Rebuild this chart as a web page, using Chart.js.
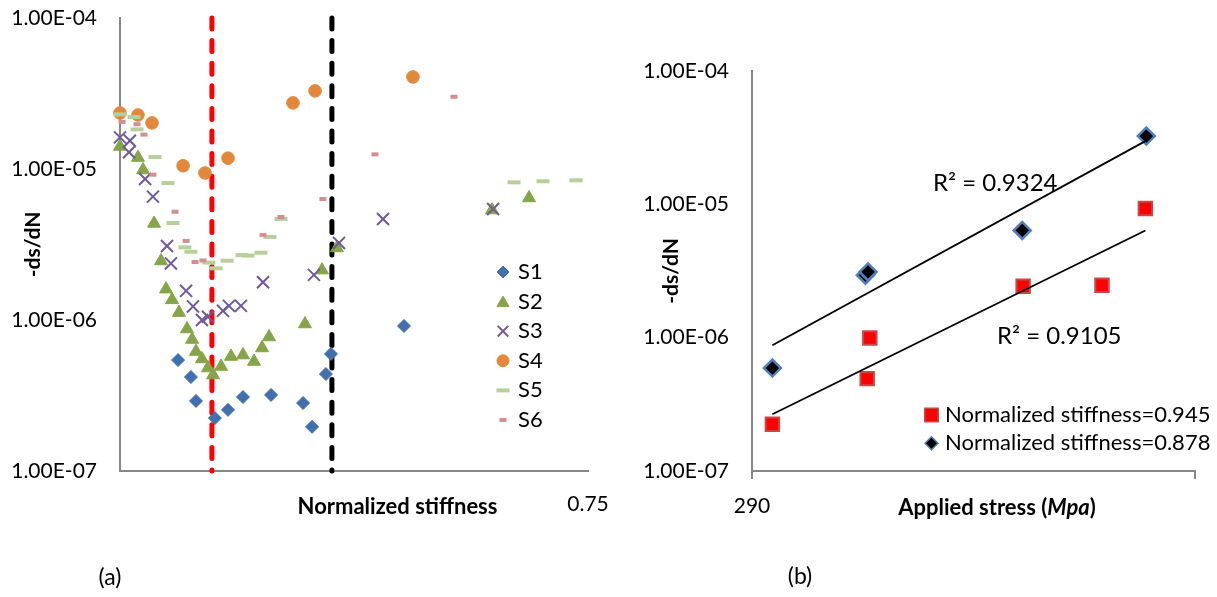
<!DOCTYPE html>
<html>
<head>
<meta charset="utf-8">
<title>Crack growth rate</title>
<script src="https://cdn.jsdelivr.net/npm/chart.js@4.4.1/dist/chart.umd.min.js"></script>
<style>
  html, body { margin: 0; padding: 0; background: #fff; overflow: hidden; }
  #wrap { position: relative; width: 1217px; height: 597px; }
  .panel { position: absolute; top: 0; }
  #panelA { left: 0; }
  #panelB { left: 620px; }
</style>
</head>
<body>
<div id="wrap">
  <div class="panel" id="panelA"><canvas id="chartA" width="620" height="597"></canvas></div>
  <div class="panel" id="panelB"><canvas id="chartB" width="597" height="597"></canvas></div>
</div>
<script>
// (a) -ds/dN against normalized stiffness, one pair of arrays per specimen
const s1Stiffness = [0.9690, 0.9621, 0.9594, 0.9493, 0.9423, 0.9343, 0.9193, 0.9022, 0.8974, 0.8900, 0.8873, 0.8483];
const s1Rate = [5.43e-7, 4.19e-7, 2.91e-7, 2.24e-7, 2.54e-7, 3.09e-7, 3.19e-7, 2.82e-7, 1.96e-7, 4.39e-7, 5.96e-7, 9.13e-7];

const s2Stiffness = [1.0, 0.9904, 0.9877, 0.9818, 0.9781, 0.9754, 0.9722, 0.9685, 0.9642, 0.9615, 0.9594, 0.9562, 0.9530,
  0.9503, 0.9460, 0.9407, 0.9343, 0.9284, 0.9241, 0.9204, 0.9012, 0.8921, 0.8841, 0.8013, 0.7815];
const s2Rate = [1.41e-5, 1.19e-5, 9.85e-6, 4.36e-6, 2.46e-6, 1.60e-6, 1.36e-6, 1.12e-6, 8.72e-7, 7.43e-7, 6.18e-7, 5.52e-7, 4.81e-7,
  4.32e-7, 4.92e-7, 5.73e-7, 5.86e-7, 5.31e-7, 6.53e-7, 7.72e-7, 9.41e-7, 2.14e-6, 3.00e-6, 5.35e-6, 6.43e-6];

const s3Stiffness = [1.0, 0.9947, 0.9952, 0.9866, 0.9824, 0.9749, 0.9728, 0.9647, 0.9610, 0.9562, 0.9530, 0.9450, 0.9418,
  0.9354, 0.9236, 0.8964, 0.8830, 0.8595, 0.8007];
const s3Rate = [1.62e-5, 1.54e-5, 1.29e-5, 8.59e-6, 6.56e-6, 3.09e-6, 2.37e-6, 1.56e-6, 1.23e-6, 1.00e-6, 1.05e-6, 1.15e-6, 1.24e-6,
  1.24e-6, 1.78e-6, 1.99e-6, 3.24e-6, 4.67e-6, 5.43e-6];

const s4Stiffness = [1.0, 0.9904, 0.9829, 0.9663, 0.9546, 0.9423, 0.9076, 0.8958, 0.8435];
const s4Rate = [2.35e-5, 2.28e-5, 2.02e-5, 1.05e-5, 9.41e-6, 1.18e-5, 2.74e-5, 3.29e-5, 4.07e-5];

const s5Stiffness = [1.0, 0.9925, 0.9909, 0.9813, 0.9744, 0.9717, 0.9653, 0.9621, 0.9525, 0.9487, 0.9428, 0.9348, 0.9316,
  0.9247, 0.9199, 0.9140, 0.7895, 0.7740, 0.7564];
const s5Rate = [2.30e-5, 2.21e-5, 1.83e-5, 1.20e-5, 8.08e-6, 4.39e-6, 3.03e-6, 2.83e-6, 2.40e-6, 2.20e-6, 2.47e-6, 2.69e-6, 2.67e-6,
  2.79e-6, 3.55e-6, 4.67e-6, 8.16e-6, 8.29e-6, 8.42e-6];

const s6Stiffness = [0.9989, 0.9909, 0.9872, 0.9824, 0.9706, 0.9647, 0.9599, 0.9557, 0.9236, 0.9140, 0.8916, 0.8638, 0.8216];
const s6Rate = [2.05e-5, 1.98e-5, 1.69e-5, 9.17e-6, 5.21e-6, 3.34e-6, 2.42e-6, 2.48e-6, 3.66e-6, 4.81e-6, 6.33e-6, 1.25e-5, 3.01e-5];

// stiffness levels marked by the dashed verticals
const guideStiffness = [0.9509, 0.8868];

// (b) -ds/dN against applied stress at two stiffness levels
const stress945 = [292.3, 303.0, 303.3, 320.6, 329.5, 334.4];
const rate945 = [2.24e-7, 4.93e-7, 9.95e-7, 2.43e-6, 2.47e-6, 9.32e-6];
const stress878 = [292.3, 302.8, 303.1, 320.5, 334.5];
const rate878 = [5.92e-7, 2.94e-6, 3.11e-6, 6.37e-6, 3.25e-5];

// axes
const rateTicks = [1e-7, 1e-6, 1e-5, 1e-4];
const stiffnessRange = [0.75, 1];
const stiffnessTicks = [0.75];
const stressRange = [290, 340];
const stressTicks = [290, 340];
const stressTickLabels = ['290', ''];

const family = 'Lato, "Open Sans", sans-serif';
const axisGray = '#878787';
const clear = 'rgba(0,0,0,0)';

function sciLabel(v) {
  const e = Math.round(Math.log10(v));
  const m = v / Math.pow(10, e);
  return m.toFixed(2) + 'E' + (e < 0 ? '-' : '+') + String(Math.abs(e)).padStart(2, '0');
}

function pairs(xs, ys) {
  return xs.map((x, i) => ({ x: x, y: ys[i] }));
}

// exponential trendline: least squares on log10(y), drawn between the outer x values
function expTrend(xs, ys) {
  const n = xs.length;
  const ly = ys.map(v => Math.log10(v));
  const mx = xs.reduce((a, b) => a + b, 0) / n;
  const my = ly.reduce((a, b) => a + b, 0) / n;
  let sxy = 0, sxx = 0;
  xs.forEach((x, i) => { sxy += (x - mx) * (ly[i] - my); sxx += (x - mx) * (x - mx); });
  const slope = sxy / sxx;
  return [Math.min(...xs), Math.max(...xs)].map(x => ({ x: x, y: Math.pow(10, my + slope * (x - mx)) }));
}

// free text (axis titles, panel letters, R² notes), each item made of styled runs
function notesPlugin(id, items) {
  return {
    id: id,
    afterDraw(chart) {
      const ctx = chart.ctx;
      ctx.save();
      ctx.fillStyle = '#000';
      ctx.textBaseline = 'middle';
      ctx.textAlign = 'left';
      items.forEach(item => {
        let total = 0;
        item.runs.forEach(r => { ctx.font = r.font; total += ctx.measureText(r.text).width; });
        let x = item.align === 'center' ? item.x - total / 2 : item.x;
        item.runs.forEach(r => {
          ctx.font = r.font;
          ctx.fillText(r.text, x, item.y);
          x += ctx.measureText(r.text).width;
        });
      });
      ctx.restore();
    }
  };
}

// legend drawn from the datasets' own marker settings
function legendPlugin(id, opts) {
  return {
    id: id,
    afterDraw(chart) {
      const ctx = chart.ctx;
      ctx.save();
      opts.entries.forEach((e, i) => {
        const ds = chart.data.datasets[e.index];
        const y = opts.y + i * opts.step;
        const bw = e.borderWidth !== undefined ? e.borderWidth : ds.pointBorderWidth;
        ctx.fillStyle = ds.pointBackgroundColor;
        ctx.strokeStyle = ds.pointBorderColor;
        ctx.lineWidth = bw;
        Chart.helpers.drawPoint(ctx, {
          pointStyle: ds.pointStyle,
          radius: e.radius !== undefined ? e.radius : ds.pointRadius,
          rotation: 0,
          borderWidth: bw
        }, opts.markerX, y + (e.dy || 0));
        ctx.fillStyle = '#000';
        ctx.font = opts.font;
        ctx.textAlign = 'left';
        ctx.textBaseline = 'middle';
        ctx.fillText(ds.label, opts.textX, y);
      });
      ctx.restore();
    }
  };
}

function guideLine(x, color) {
  return {
    type: 'line',
    label: '',
    data: [{ x: x, y: rateTicks[rateTicks.length - 1] }, { x: x, y: rateTicks[0] }],
    borderColor: color,
    borderWidth: 5,
    borderDash: [11, 11.6],
    borderCapStyle: 'round',
    pointRadius: 0,
    showLine: true,
    clip: false,
    order: 10
  };
}

function markers(label, xs, ys, style) {
  return Object.assign({ label: label, data: pairs(xs, ys), showLine: false, clip: false }, style);
}

// invisible tick marks keep the label gap out of the scale's edge padding
function spacer(len) {
  return { display: true, drawOnChartArea: false, drawTicks: true, tickLength: len, color: clear };
}

const datasetsA = [
  guideLine(guideStiffness[0], '#FF0000'),
  guideLine(guideStiffness[1], '#000000'),
  markers('S1', s1Stiffness, s1Rate, { pointStyle: 'rectRot', pointRadius: 6.5, pointBackgroundColor: '#4270AE', pointBorderColor: '#4270AE', pointBorderWidth: 1, order: 6 }),
  markers('S2', s2Stiffness, s2Rate, { pointStyle: 'triangle', pointRadius: 7.5, pointBackgroundColor: '#86A548', pointBorderColor: '#86A548', pointBorderWidth: 1, order: 5 }),
  markers('S3', s3Stiffness, s3Rate, { pointStyle: 'crossRot', pointRadius: 8.5, pointBackgroundColor: '#70589A', pointBorderColor: '#70589A', pointBorderWidth: 2, order: 4 }),
  markers('S4', s4Stiffness, s4Rate, { pointStyle: 'circle', pointRadius: 6.3, pointBackgroundColor: '#E3883B', pointBorderColor: '#E3883B', pointBorderWidth: 1, order: 3 }),
  markers('S5', s5Stiffness, s5Rate, { pointStyle: 'line', pointRadius: 6.5, pointBackgroundColor: '#B7D09A', pointBorderColor: '#B7D09A', pointBorderWidth: 4, order: 2 }),
  markers('S6', s6Stiffness, s6Rate, { pointStyle: 'line', pointRadius: 3.5, pointBackgroundColor: '#D58E90', pointBorderColor: '#D58E90', pointBorderWidth: 4, order: 1 })
];

const tickFont = { family: family, size: 21 };

new Chart(document.getElementById('chartA'), {
  type: 'scatter',
  data: { datasets: datasetsA },
  options: {
    responsive: false,
    animation: false,
    events: [],
    layout: { padding: { left: 0, top: 18, right: 32, bottom: 46 } },
    plugins: { legend: { display: false }, tooltip: { enabled: false } },
    scales: {
      x: {
        type: 'linear',
        min: stiffnessRange[0],
        max: stiffnessRange[1],
        reverse: true,
        afterBuildTicks: s => { s.ticks = stiffnessTicks.map(v => ({ value: v })); },
        afterFit: s => { s.height = 80; },
        grid: spacer(21),
        border: { color: axisGray, width: 2 },
        ticks: { font: tickFont, color: '#000', padding: 0, maxRotation: 0, autoSkip: false, callback: v => String(v) }
      },
      y: {
        type: 'logarithmic',
        min: rateTicks[0],
        max: rateTicks[rateTicks.length - 1],
        afterBuildTicks: s => { s.ticks = rateTicks.map(v => ({ value: v })); },
        afterFit: s => { s.width = 120; },
        grid: spacer(23),
        border: { color: axisGray, width: 2 },
        ticks: { font: tickFont, color: '#000', padding: 0, autoSkip: false, callback: v => sciLabel(v) },
        title: { display: true, text: '-ds/dN', color: '#000', font: { family: family, size: 21, weight: 'bold' }, padding: { top: 21, bottom: 0 } }
      }
    }
  },
  plugins: [
    notesPlugin('notesA', [
      { x: 397.5, y: 507, align: 'center', runs: [{ text: 'Normalized stiffness', font: 'bold 22px ' + family }] },
      { x: 110, y: 578, align: 'center', runs: [{ text: '(a)', font: '23px ' + family }] }
    ]),
    legendPlugin('legendA', {
      markerX: 503, textX: 518, y: 272, step: 29.6, font: '22px ' + family,
      entries: [
        { index: 2, radius: 6 },
        { index: 3, radius: 7, dy: 1.5 },
        { index: 4, radius: 7.5 },
        { index: 5, radius: 6 },
        { index: 6, radius: 6.5 },
        { index: 7, radius: 3.5 }
      ]
    })
  ]
});

const datasetsB = [
  Object.assign({ type: 'line', label: '', data: expTrend(stress945, rate945) },
    { borderColor: '#000', borderWidth: 1.8, pointRadius: 0, showLine: true, clip: false, order: 0 }),
  Object.assign({ type: 'line', label: '', data: expTrend(stress878, rate878) },
    { borderColor: '#000', borderWidth: 1.8, pointRadius: 0, showLine: true, clip: false, order: 0 }),
  markers('Normalized stiffness=0.945', stress945, rate945, { pointStyle: 'rect', pointRadius: 9.5, pointBackgroundColor: '#FF0000', pointBorderColor: '#C84848', pointBorderWidth: 2, order: 2 }),
  markers('Normalized stiffness=0.878', stress878, rate878, { pointStyle: 'rectRot', pointRadius: 8.5, pointBackgroundColor: '#000000', pointBorderColor: '#4F81BD', pointBorderWidth: 2.5, order: 1 })
];

new Chart(document.getElementById('chartB'), {
  type: 'scatter',
  data: { datasets: datasetsB },
  options: {
    responsive: false,
    animation: false,
    events: [],
    layout: { padding: { left: 0, top: 71, right: 22, bottom: 46 } },
    plugins: { legend: { display: false }, tooltip: { enabled: false } },
    scales: {
      x: {
        type: 'linear',
        min: stressRange[0],
        max: stressRange[1],
        afterBuildTicks: s => { s.ticks = stressTicks.map(v => ({ value: v })); },
        afterFit: s => { s.height = 80; },
        grid: { display: true, drawOnChartArea: false, drawTicks: true, tickLength: 8, color: axisGray, lineWidth: 2 },
        border: { color: axisGray, width: 2 },
        ticks: { font: tickFont, color: '#000', padding: 15, maxRotation: 0, autoSkip: false,
          callback: (v, i) => stressTickLabels[i] }
      },
      y: {
        type: 'logarithmic',
        min: rateTicks[0],
        max: rateTicks[rateTicks.length - 1],
        afterBuildTicks: s => { s.ticks = rateTicks.map(v => ({ value: v })); },
        afterFit: s => { s.width = 132; },
        grid: spacer(23),
        border: { color: axisGray, width: 2 },
        ticks: { font: tickFont, color: '#000', padding: 0, autoSkip: false, callback: v => sciLabel(v) },
        title: { display: true, text: '-ds/dN', color: '#000', font: { family: family, size: 21, weight: 'bold' }, padding: { top: 39, bottom: 0 } }
      }
    }
  },
  plugins: [
    notesPlugin('notesB', [
      { x: 377, y: 508, align: 'center', runs: [
        { text: 'Applied stress (', font: 'bold 22px ' + family },
        { text: 'Mpa', font: 'italic bold 22px ' + family },
        { text: ')', font: 'bold 22px ' + family }
      ] },
      { x: 180, y: 577, align: 'center', runs: [{ text: '(b)', font: '23px ' + family }] },
      { x: 313, y: 183, align: 'left', runs: [{ text: 'R² = 0.9324', font: '24px ' + family }] },
      { x: 377, y: 336, align: 'left', runs: [{ text: 'R² = 0.9105', font: '24px ' + family }] }
    ]),
    legendPlugin('legendB', {
      markerX: 311.5, textX: 325, y: 415, step: 28.3, font: '22px ' + family,
      entries: [
        { index: 2, radius: 9.5, borderWidth: 1.5 },
        { index: 3, radius: 6.5, borderWidth: 1.5 }
      ]
    })
  ]
});
</script>
</body>
</html>
